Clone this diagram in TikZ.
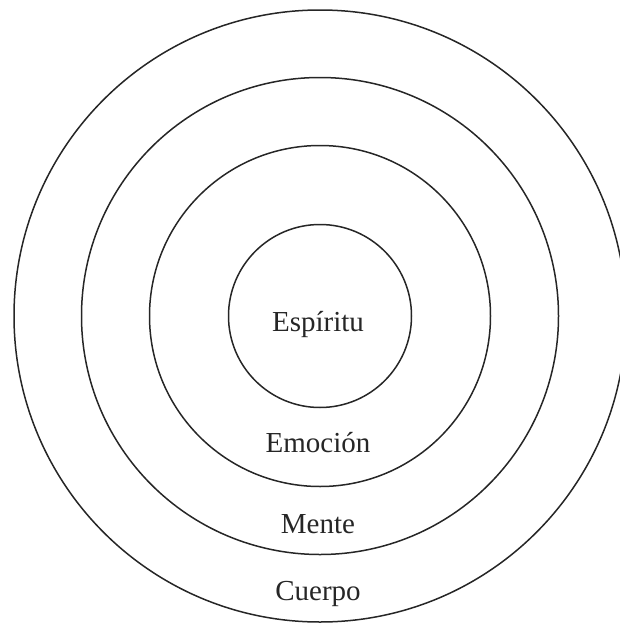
\documentclass[tikz,border=0pt]{standalone}
\usepackage{fontspec}
\setmainfont{Liberation Serif}
\usetikzlibrary{positioning}

\begin{document}
\begin{tikzpicture}[
  x=1pt,y=-1pt,
  ring/.style={draw=black!85,line width=1.5pt,circle,inner sep=0pt},
  lbl/.style={text=black!85,font=\fontsize{29}{34}\selectfont,anchor=base}
]
  \useasboundingbox (0,0) rectangle (619,624);
  \node[ring,minimum size=612pt] (cuerpo) at (320,316) {};
  \node[ring,minimum size=477pt] (mente) at (320,316) {};
  \node[ring,minimum size=341pt] (emocion) at (320,316) {};
  \node[ring,minimum size=183pt] (espiritu) at (320,316) {};
  \node[lbl] (lblEspiritu) at (318,331) {Espíritu};
  \node[lbl] (lblEmocion) at (318,452) {Emoción};
  \node[lbl] (lblMente) at (318,533) {Mente};
  \node[lbl] (lblCuerpo) at (318,600) {Cuerpo};
\end{tikzpicture}
\end{document}
